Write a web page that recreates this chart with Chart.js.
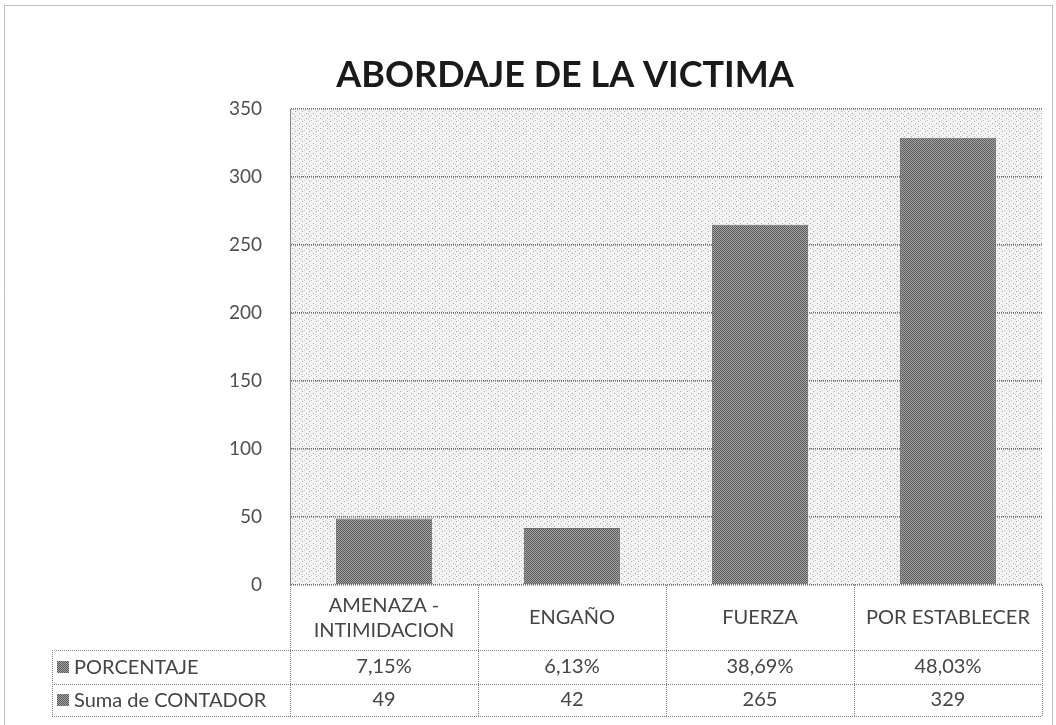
<!DOCTYPE html>
<html><head><meta charset="utf-8">
<script src="https://cdn.jsdelivr.net/npm/chart.js@4/dist/chart.umd.min.js"></script>
<style>html,body{margin:0;padding:0;background:#fff;}</style>
</head><body><canvas id="c" width="1056" height="725"></canvas>
<script>
const categories = [["AMENAZA -","INTIMIDACION"],"ENGAÑO","FUERZA","POR ESTABLECER"];
const contador = [49,42,265,329];
const porcentaje = [7.15,6.13,38.69,48.03];
const seriesNames = ["PORCENTAJE","Suma de CONTADOR"];
const chartTitle = "ABORDAJE DE LA VICTIMA";
const yMin = 0, yMax = 350, yStep = 50;

function makePattern(a, b, size){
  const c = document.createElement('canvas'); c.width = size; c.height = size;
  const g = c.getContext('2d');
  g.fillStyle = a; g.fillRect(0,0,size,size);
  g.fillStyle = b;
  for(let y=0;y<size;y++) for(let x=0;x<size;x++) if((x+y)%2===0) g.fillRect(x,y,1,1);
  return g.createPattern(c,'repeat');
}
function makeSpeckle(){
  const c = document.createElement('canvas'); c.width = 7; c.height = 5;
  const g = c.getContext('2d');
  g.fillStyle = '#f4f4f4'; g.fillRect(0,0,7,5);
  g.fillStyle = '#a8a8a8'; g.fillRect(1,1,1,1); g.fillRect(5,3,1,1);
  g.fillStyle = '#c8c8c8'; g.fillRect(3,0,1,1); g.fillRect(0,4,1,1);
  return g.createPattern(c,'repeat');
}
const ctx0 = document.getElementById('c').getContext('2d');
const barPattern = makePattern('#a6a6a6','#585858',8);
const plotPattern = makeSpeckle();

const FONT = 'Lato, "Open Sans", sans-serif';
const TXT = '#454545';
const LINE = '#858585';

const fmtPct = v => v.toFixed(2).replace('.', ',') + '%';

const tablePlugin = {
  id: 'tablePlugin',
  beforeDraw(chart){
    const {ctx, chartArea:a} = chart;
    ctx.save();
    ctx.fillStyle = plotPattern;
    ctx.fillRect(a.left, a.top, a.right - a.left, a.bottom - a.top);
    ctx.restore();
  },
  afterDraw(chart){
    const {ctx, chartArea:a} = chart;
    const xs = chart.scales.x;
    const n = categories.length;
    const centers = categories.map((_,i)=>xs.getPixelForValue(i));
    const bounds = [a.left];
    for(let i=0;i<n-1;i++) bounds.push((centers[i]+centers[i+1])/2);
    bounds.push(a.right);
    const yHead = a.bottom, yR1 = a.bottom + 65, yR2 = yR1 + 34, yEnd = yR2 + 32;
    const legendLeft = 52;
    ctx.save();
    ctx.strokeStyle = LINE; ctx.lineWidth = 1; ctx.setLineDash([1,1]);
    const line=(x1,y1,x2,y2)=>{ctx.beginPath();ctx.moveTo(x1,y1);ctx.lineTo(x2,y2);ctx.stroke();};
    ctx.strokeRect(4.5, 5.5, 1048, 730);
    bounds.forEach(b=>line(Math.round(b)+0.5, yHead, Math.round(b)+0.5, yEnd));
    [yR1,yR2,yEnd].forEach(y=>line(legendLeft, y+0.5, a.right, y+0.5));
    line(legendLeft+0.5, yR1, legendLeft+0.5, yEnd);
    ctx.setLineDash([]);
    ctx.fillStyle = TXT; ctx.font = '20px ' + FONT; ctx.textAlign='center'; ctx.textBaseline='middle';
    categories.forEach((c,i)=>{
      const mid = (yHead + yR1)/2;
      if(Array.isArray(c)){ ctx.fillText(c[0], centers[i], mid-12); ctx.fillText(c[1], centers[i], mid+13); }
      else ctx.fillText(c, centers[i], mid);
    });
    const rows = [porcentaje.map(fmtPct), contador.map(String)];
    const rowY = [(yR1+yR2)/2, (yR2+yEnd)/2];
    rows.forEach((r,ri)=>r.forEach((t,i)=>ctx.fillText(t, centers[i], rowY[ri])));
    ctx.textAlign='left';
    seriesNames.forEach((s,ri)=>{
      ctx.fillStyle = barPattern; ctx.fillRect(57, rowY[ri]-6, 12, 12);
      ctx.fillStyle = TXT; ctx.fillText(s, 74, rowY[ri]+1);
    });
    ctx.restore();
  }
};

new Chart(ctx0, {
  type: 'bar',
  data: { labels: categories, datasets: [{ label: seriesNames[1], data: contador,
    backgroundColor: barPattern, borderColor: '#6a6a6a', borderWidth: 1,
    barPercentage: 0.51, categoryPercentage: 1 }] },
  options: {
    responsive: false, animation: false,
    layout: { padding: { left: 88, right: 14, top: 54, bottom: 12 } },
    plugins: {
      legend: { display: false }, tooltip: { enabled: false },
      title: { display: true, text: chartTitle, color: '#1a1a1a',
        font: { family: FONT, size: 36, weight: 'bold' }, padding: { top: 0, bottom: 12 } }
    },
    scales: {
      x: { ticks: { display: false }, grid: { display: false }, border: { display: false },
        afterFit: s => { s.height = 128; } },
      y: { min: yMin, max: yMax,
        ticks: { stepSize: yStep, color: '#505050', font: { family: FONT, size: 19 }, padding: 28 },
        grid: { color: '#6e6e6e', lineWidth: 1.6, drawTicks: false },
        border: { display: true, color: LINE, dash: [1,1] },
        afterFit: s => { s.width = 202; } }
    }
  },
  plugins: [tablePlugin]
});
</script></body></html>
